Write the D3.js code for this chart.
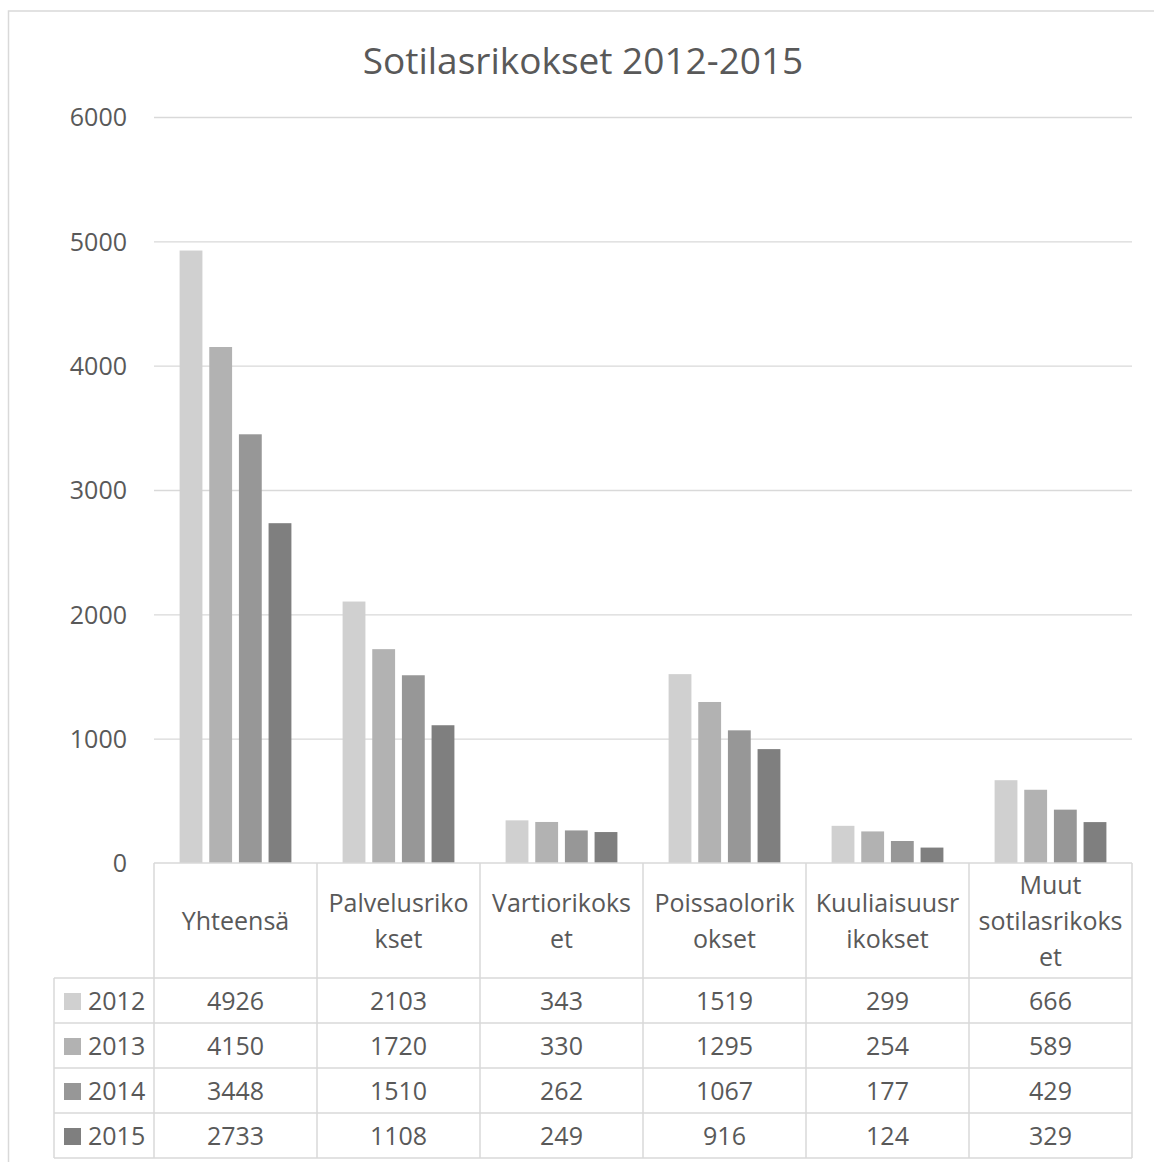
<!DOCTYPE html>
<html lang="fi">
<head>
<meta charset="UTF-8">
<title>Sotilasrikokset 2012-2015</title>
<script src="https://cdn.jsdelivr.net/npm/d3@7"></script>
<style>
    html, body {
        margin: 0;
        padding: 0;
        background: #fff;
    }
    svg text {
        font-family: "Open Sans", "Noto Sans", sans-serif;
        fill: #595959;
    }
</style>
</head>
<body>
<div id="chart"></div>
<script>
    // data
    var categories = ["Yhteensä", "Palvelusrikokset", "Vartiorikokset", "Poissaolorikokset", "Kuuliaisuusrikokset", "Muut sotilasrikokset"];
    // how the category names wrap in the table header
    var headerLines = [
        ["Yhteensä"],
        ["Palvelusriko", "kset"],
        ["Vartiorikoks", "et"],
        ["Poissaolorik", "okset"],
        ["Kuuliaisuusr", "ikokset"],
        ["Muut", "sotilasrikoks", "et"]
    ];
    var years = ["2012", "2013", "2014", "2015"];
    var v2012 = [4926, 2103, 343, 1519, 299, 666];
    var v2013 = [4150, 1720, 330, 1295, 254, 589];
    var v2014 = [3448, 1510, 262, 1067, 177, 429];
    var v2015 = [2733, 1108, 249, 916, 124, 329];
    var yTicks = [0, 1000, 2000, 3000, 4000, 5000, 6000];

    var series = [v2012, v2013, v2014, v2015];
    var colors = ["#d0d0d0", "#b2b2b2", "#979797", "#7f7f7f"];

    var W = 1154, H = 1162;
    var plot = {left: 154, right: 1132, top: 117, bottom: 863};
    var legendLeft = 54;
    var headerBottom = 978;
    var rowH = 45;

    var svg = d3.select("#chart").append("svg")
        .attr("width", W)
        .attr("height", H);

    // outer chart border (right/bottom run off the picture)
    svg.append("rect")
        .attr("x", 8.5).attr("y", 11)
        .attr("width", W + 20).attr("height", H + 20)
        .attr("fill", "#fff")
        .attr("stroke", "#d9d9d9")
        .attr("stroke-width", 1.5);

    svg.append("text")
        .attr("x", 583).attr("y", 74)
        .attr("text-anchor", "middle")
        .style("font-size", "37px")
        .text("Sotilasrikokset 2012-2015");

    var x0 = d3.scaleBand()
        .domain(categories)
        .range([plot.left, plot.right])
        .padding(0);

    var outer = x0.bandwidth() * 0.157;
    var x1 = d3.scaleBand()
        .domain(years)
        .range([outer, x0.bandwidth() - outer])
        .paddingInner(0.23)
        .paddingOuter(0);

    var y = d3.scaleLinear()
        .domain([0, 6000])
        .range([plot.bottom, plot.top]);

    // gridlines + tick labels
    var yAxis = svg.append("g")
        .attr("transform", "translate(" + plot.left + ",0)")
        .call(d3.axisLeft(y)
            .tickValues(yTicks)
            .tickSize(-(plot.right - plot.left))
            .tickPadding(27)
            .tickFormat(d3.format("d")));
    yAxis.select(".domain").remove();
    yAxis.selectAll(".tick line")
        .attr("stroke", "#d9d9d9")
        .attr("stroke-width", 1.3);
    yAxis.selectAll(".tick text")
        .style("font-size", "25px")
        .attr("fill", "#595959")
        .attr("dy", "0.35em");
    yAxis.selectAll(".tick").filter(function (d) { return d === 0; })
        .select("line").remove();

    // bars
    var groups = svg.append("g").selectAll("g")
        .data(categories)
        .join("g")
        .attr("transform", function (d) { return "translate(" + x0(d) + ",0)"; });

    groups.selectAll("rect")
        .data(function (d, i) {
            return years.map(function (yr, j) { return {year: yr, value: series[j][i], color: colors[j]}; });
        })
        .join("rect")
        .attr("x", function (d) { return x1(d.year); })
        .attr("width", x1.bandwidth())
        .attr("y", function (d) { return y(d.value); })
        .attr("height", function (d) { return y(0) - y(d.value); })
        .attr("fill", function (d) { return d.color; });

    // data table
    var table = svg.append("g");
    var lineColor = "#d9d9d9";
    var tableBottom = headerBottom + rowH * years.length;

    // horizontal lines
    table.append("line")
        .attr("x1", plot.left).attr("x2", plot.right)
        .attr("y1", plot.bottom).attr("y2", plot.bottom);
    d3.range(years.length + 1).forEach(function (i) {
        table.append("line")
            .attr("x1", legendLeft).attr("x2", plot.right)
            .attr("y1", headerBottom + i * rowH).attr("y2", headerBottom + i * rowH);
    });
    // vertical lines
    table.append("line")
        .attr("x1", legendLeft).attr("x2", legendLeft)
        .attr("y1", headerBottom).attr("y2", tableBottom);
    categories.forEach(function (c) {
        table.append("line")
            .attr("x1", x0(c)).attr("x2", x0(c))
            .attr("y1", plot.bottom).attr("y2", tableBottom);
    });
    table.append("line")
        .attr("x1", plot.right).attr("x2", plot.right)
        .attr("y1", plot.bottom).attr("y2", tableBottom);
    table.selectAll("line")
        .attr("stroke", lineColor)
        .attr("stroke-width", 1.5);

    // header labels
    var headerMid = (plot.bottom + headerBottom) / 2 + 1;
    var lineGap = 36;
    categories.forEach(function (c, i) {
        var lines = headerLines[i];
        var t = table.append("text")
            .attr("text-anchor", "middle")
            .style("font-size", "25px");
        lines.forEach(function (ln, k) {
            t.append("tspan")
                .attr("x", x0(c) + x0.bandwidth() / 2)
                .attr("y", headerMid + (k - (lines.length - 1) / 2) * lineGap)
                .attr("dy", "0.35em")
                .text(ln);
        });
    });

    // rows
    years.forEach(function (yr, j) {
        var cy = headerBottom + j * rowH + rowH / 2 + 1;
        table.append("rect")
            .attr("x", 64).attr("y", cy - 8.5)
            .attr("width", 17).attr("height", 17)
            .attr("fill", colors[j]);
        table.append("text")
            .attr("x", 88).attr("y", cy)
            .attr("dy", "0.35em")
            .style("font-size", "25px")
            .text(yr);
        categories.forEach(function (c, i) {
            table.append("text")
                .attr("x", x0(c) + x0.bandwidth() / 2)
                .attr("y", cy)
                .attr("dy", "0.35em")
                .attr("text-anchor", "middle")
                .style("font-size", "25px")
                .text(series[j][i]);
        });
    });
</script>
</body>
</html>
